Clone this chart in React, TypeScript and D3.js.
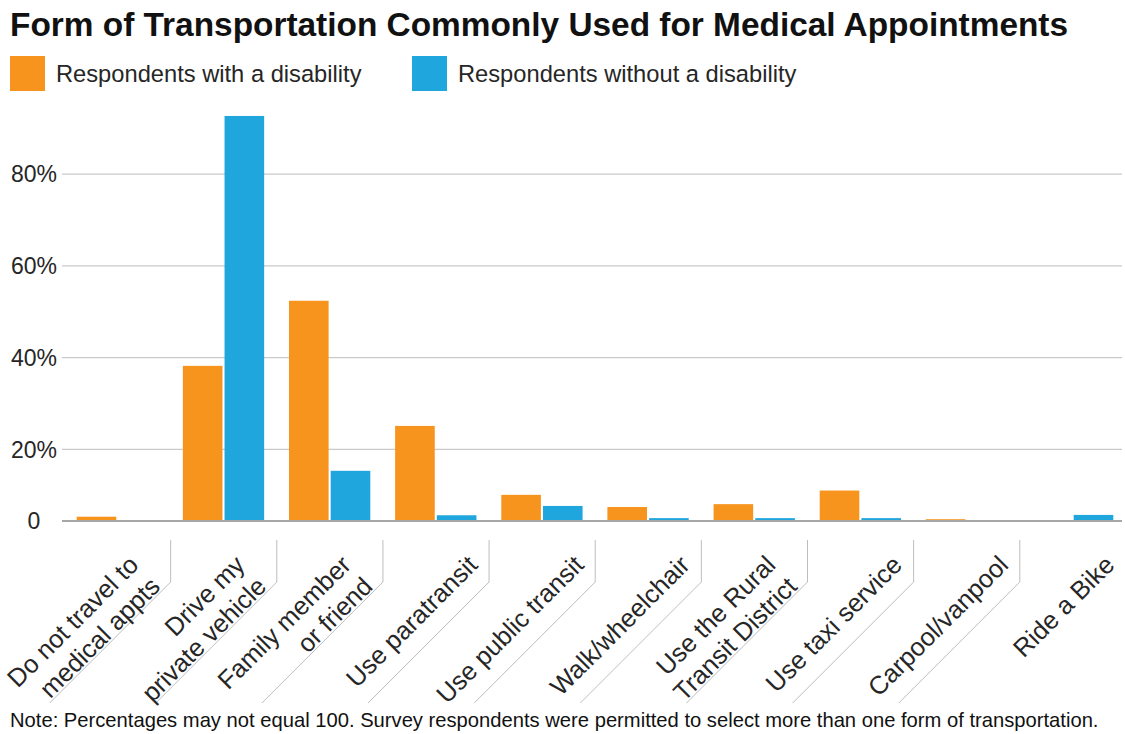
import React from "react";
import * as d3 from "d3";

const TITLE = "Form of Transportation Commonly Used for Medical Appointments";
const NOTE =
  "Note: Percentages may not equal 100. Survey respondents were permitted to select more than one form of transportation.";

const categories: string[][] = [
  ["Do not travel to", "medical appts"],
  ["Drive my", "private vehicle"],
  ["Family member", "or friend"],
  ["Use paratransit"],
  ["Use public transit"],
  ["Walk/wheelchair"],
  ["Use the Rural", "Transit District"],
  ["Use taxi service"],
  ["Carpool/vanpool"],
  ["Ride a Bike"],
];

const seriesNames = ["Respondents with a disability", "Respondents without a disability"];
const seriesColors = ["#F7941D", "#1FA6DD"];

const withDisability = [1.2, 38.2, 52.4, 25.1, 7.3, 3.9, 4.7, 8.5, 0.5, 0];
const withoutDisability = [0, 92.7, 14.0, 1.6, 4.2, 0.8, 0.8, 0.8, 0, 1.7];

const yTicks = [0, 20, 40, 60, 80];
const yTickLabels = ["0", "20%", "40%", "60%", "80%"];

const W = 1125;
const H = 734;
const FONT = "'Liberation Sans', Arial, Helvetica, sans-serif";

export default function App() {
  const keys = categories.map((c) => c.join(" "));
  const x0 = d3
    .scaleBand<string>()
    .domain(keys)
    .range([64.5, 1125.5])
    .paddingInner(0.234)
    .paddingOuter(0.115);
  const x1 = d3
    .scaleBand<number>()
    .domain([0, 1])
    .range([0, x0.bandwidth()])
    .paddingInner(0.05);
  // axis is drawn with a compressed first segment (0–20%)
  const y = d3.scaleLinear().domain([0, 20, 100]).range([521, 449.3, 82.5]);

  const series = [withDisability, withoutDisability];
  const step = x0.step();
  const start = x0.range()[0];

  return (
    <svg
      width={W}
      height={H}
      style={{ position: "absolute", left: 0, top: 0, background: "#fff" }}
      fontFamily={FONT}
    >
      <rect x={0} y={0} width={W} height={H} fill="#fff" />
      <text x={10} y={36} fontSize={33.4} fontWeight="bold" fill="#111">
        {TITLE}
      </text>

      {seriesNames.map((name, i) => {
        const lx = i === 0 ? 10 : 412;
        return (
          <g key={name}>
            <rect x={lx} y={56} width={35} height={35} fill={seriesColors[i]} />
            <text x={lx + 46} y={82} fontSize={23.7} fill="#262626">
              {name}
            </text>
          </g>
        );
      })}

      {yTicks.map((t, i) => (
        <g key={t}>
          {t !== 0 && (
            <line x1={62} x2={1122} y1={y(t)} y2={y(t)} stroke="#c9c9c9" strokeWidth={1.2} />
          )}
          <text
            x={34}
            y={y(t)}
            dy="0.36em"
            textAnchor="middle"
            fontSize={23}
            fill="#262626"
          >
            {yTickLabels[i]}
          </text>
        </g>
      ))}

      {keys.map((k, ci) => (
        <g key={k} transform={`translate(${x0(k)},0)`}>
          {series.map((s, si) => (
            <rect
              key={si}
              x={x1(si)}
              y={y(s[ci])}
              width={x1.bandwidth()}
              height={y(0) - y(s[ci])}
              fill={seriesColors[si]}
            />
          ))}
        </g>
      ))}

      <line x1={62} x2={1122} y1={y(0)} y2={y(0)} stroke="#a6a6a6" strokeWidth={2} />

      {keys.slice(1).map((k, i) => {
        const bx = start + (i + 1) * step;
        return (
          <path
            key={"sep" + k}
            d={`M${bx},540 L${bx},582 L${bx - 121},703`}
            fill="none"
            stroke="#bdbdbd"
            strokeWidth={1}
          />
        );
      })}

      {categories.map((lines, ci) => {
        const R = start + (ci + 1) * step;
        const n = lines.length;
        const px = R - 10 - 20.5 * (n - 1);
        return (
          <text
            key={"lab" + ci}
            transform={`translate(${px},566.5) rotate(-45)`}
            textAnchor="end"
            fontSize={25.5}
            fill="#262626"
          >
            {lines.map((ln, j) => (
              <tspan key={j} x={0} dy={j === 0 ? 0 : 30.4}>
                {ln}
              </tspan>
            ))}
          </text>
        );
      })}

      <text x={10} y={727} fontSize={20.2} fill="#111">
        {NOTE}
      </text>
    </svg>
  );
}
